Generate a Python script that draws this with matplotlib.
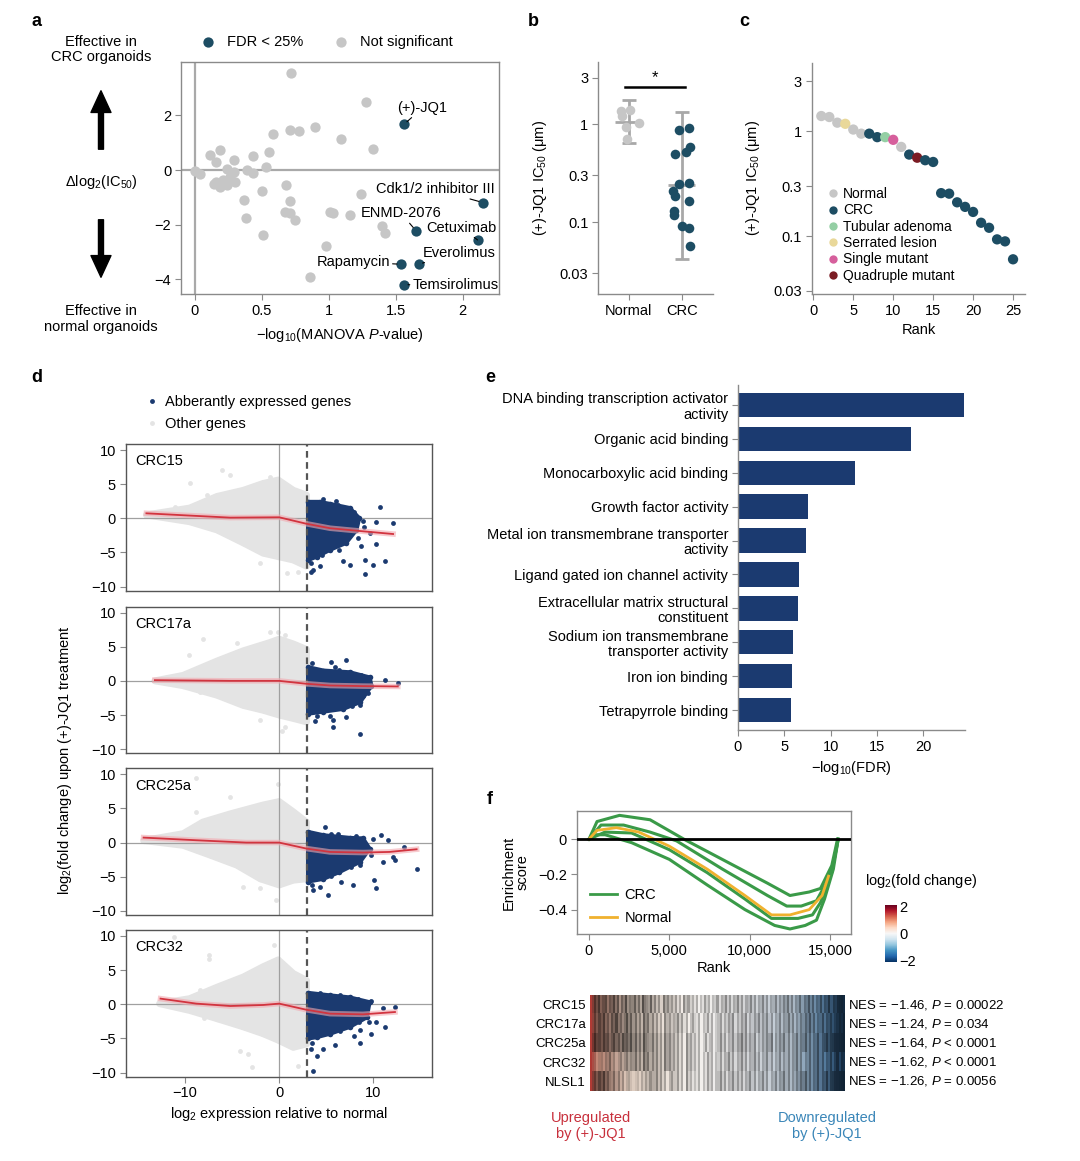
import numpy as np
import matplotlib
matplotlib.use('Agg')
import matplotlib.pyplot as plt
from matplotlib.patches import FancyArrowPatch
from matplotlib.colors import LinearSegmentedColormap, Normalize
from matplotlib.lines import Line2D
import matplotlib.colorbar as mcolorbar

plt.rcParams['font.family'] = ['Liberation Sans', 'DejaVu Sans']
plt.rcParams['font.size'] = 10
plt.rcParams['mathtext.fontset'] = 'custom'
plt.rcParams['mathtext.rm'] = 'Liberation Sans'
plt.rcParams['mathtext.it'] = 'Liberation Sans:italic'
plt.rcParams['mathtext.default'] = 'regular'

TEAL = '#1d4d63'
LGREY = '#c6c6c6'
NAVY = '#1b3a70'
SPINE = '#8a8a8a'
CLOUD = '#e4e4e4'

# ---- panel a : drug screen ----
ns_x = [0.72, 1.28, 0.90, 0.71, 0.78, 0.58, 1.09, 1.33, 0.55, 0.11, 0.19, 0.43, 0.29, 0.16, 0.53,
        0.00, 0.04, 0.24, 0.39, 0.43, 0.29, 0.16, 0.21, 0.24, 0.19, 0.30, 0.26, 0.14, 0.68, 0.50,
        0.71, 0.37, 1.24, 0.67, 0.71, 1.01, 1.03, 1.16, 0.75, 0.38, 1.40, 1.42, 0.51, 0.98, 0.86]
ns_y = [3.57, 2.50, 1.56, 1.48, 1.42, 1.33, 1.14, 0.79, 0.66, 0.56, 0.75, 0.52, 0.38, 0.29, 0.11,
        -0.04, -0.13, 0.05, 0.02, -0.11, -0.07, -0.44, -0.38, -0.56, -0.63, -0.44, -0.26, -0.50, -0.54, -0.77,
        -1.12, -1.09, -0.87, -1.52, -1.57, -1.52, -1.58, -1.64, -1.82, -1.77, -2.04, -2.32, -2.38, -2.77, -3.91]
sig_names = ['(+)-JQ1', 'Cdk1/2 inhibitor III', 'ENMD-2076', 'Cetuximab', 'Everolimus', 'Rapamycin', 'Temsirolimus']
sig_x = [1.56, 2.15, 1.65, 2.11, 1.67, 1.54, 1.56]
sig_y = [1.67, -1.19, -2.22, -2.56, -3.45, -3.45, -4.20]

# ---- panel b ----
b_normal = [1.40, 1.37, 1.21, 1.04, 0.95, 0.71]
b_normal_jit = [0.02, -0.14, -0.12, 0.19, -0.05, -0.04]
b_crc = [0.92, 0.88, 0.59, 0.52, 0.50, 0.25, 0.246, 0.207, 0.183, 0.166, 0.129, 0.117, 0.090, 0.086, 0.057]
b_crc_jit = [0.14, -0.05, 0.16, 0.08, -0.13, 0.14, -0.05, -0.16, -0.13, 0.14, -0.15, -0.15, 0.0, 0.14, 0.16]
b_mean = [1.07, 0.237]
b_lo = [0.64, 0.042]
b_hi = [1.80, 1.34]

# ---- panel c ----
c_rank = list(range(1, 26))
c_ic50 = [1.40, 1.37, 1.21, 1.18, 1.04, 0.95, 0.95, 0.88, 0.88, 0.83, 0.71, 0.60, 0.56, 0.53, 0.51,
          0.257, 0.254, 0.21, 0.19, 0.17, 0.134, 0.12, 0.093, 0.089, 0.060]
c_group = ['Normal', 'Normal', 'Normal', 'Serrated lesion', 'Normal', 'Normal', 'CRC', 'CRC', 'Tubular adenoma',
           'Single mutant', 'Normal', 'CRC', 'Quadruple mutant', 'CRC', 'CRC'] + ['CRC'] * 10
c_order = ['Normal', 'CRC', 'Tubular adenoma', 'Serrated lesion', 'Single mutant', 'Quadruple mutant']
c_colors = {'Normal': LGREY, 'CRC': TEAL, 'Tubular adenoma': '#94cfa4', 'Serrated lesion': '#e9d89a',
            'Single mutant': '#d65f9c', 'Quadruple mutant': '#7b1c24'}

# ---- panel d : (x, y) envelopes of dense clouds, sparse points and loess fits ----
d_names = ['CRC15', 'CRC17a', 'CRC25a', 'CRC32']
crc15_grey_env = [(-14.1, 0.5), (-9.5, 1.5), (-6.6, 3.2), (-3.8, 4.1), (-1.7, 5.1), (-0.1, 5.6), (1.5, 4.1), (2.9, 3.4),
                  (2.9, -7.0), (1.5, -6.1), (-0.1, -5.6), (-1.7, -5.1), (-3.8, -3.6), (-6.6, -1.7), (-9.5, -0.5)]
crc15_grey_pts = [(-6.1, 7.0), (-5.2, 6.3), (-9.5, 5.2), (-1.0, 6.1), (-11.1, 1.7), (-2.0, -6.6), (0.8, -8.0),
                  (2.0, -7.8), (-7.7, 3.4), (-12.0, 0.6)]
crc15_blue_env = [(3.07, 2.4), (4.3, 2.4), (5.4, 2.1), (7.5, 1.5), (8.5, 0.0), (8.2, -1.7), (7.1, -3.6), (5.4, -4.6),
                  (4.0, -5.6), (3.07, -6.1)]
crc15_blue_pts = [(10.7, 1.6), (12.1, -0.7), (10.3, -0.5), (11.2, -6.3), (10.0, -6.8), (9.1, -8.2), (9.1, -6.1),
                  (6.8, -6.3), (3.6, -7.5), (3.4, -7.9), (4.3, -7.0), (8.7, -4.1), (10.3, -3.7), (7.5, -6.8),
                  (9.6, -2.2), (8.9, -0.4), (9.0, -1.2), (6.0, 2.5), (4.7, 2.8), (6.3, 1.9), (7.9, 0.9),
                  (8.4, -2.9), (6.4, -4.6), (4.6, -5.4), (3.4, -6.6)]
crc15_fit = [(-14.1, 0.73), (-9.5, 0.4), (-5.2, 0.1), (0.0, 0.15), (2.9, -0.8), (5.4, -1.45), (8.9, -1.9), (12.1, -2.3)]

crc17a_grey_env = [(-13.2, 0.0), (-10.2, 0.8), (-6.6, 2.9), (-3.8, 4.4), (-1.0, 5.6), (0.0, 6.1), (1.5, 5.4), (2.9, 4.6),
                   (2.9, -6.0), (1.5, -5.5), (0.0, -5.0), (-1.7, -4.3), (-3.8, -3.6), (-6.6, -2.1), (-10.2, -0.7)]
crc17a_grey_pts = [(-8.1, 6.2), (-9.6, 3.8), (-1.0, 7.1), (-0.1, 7.1), (0.6, 6.7), (-2.0, -5.7), (0.25, -7.4),
                   (0.6, -6.7), (-8.4, -1.6), (-4.5, 5.6)]
crc17a_blue_env = [(3.07, 2.0), (4.7, 1.5), (7.5, 1.25), (9.6, 0.5), (9.8, -0.7), (8.6, -3.1), (6.8, -4.1), (4.7, -4.5),
                   (3.07, -4.8)]
crc17a_blue_pts = [(5.5, 2.8), (7.1, 3.0), (5.9, 2.0), (11.2, 0.15), (12.6, -0.3), (5.7, -5.7), (7.1, -5.3), (5.7, -6.7),
                   (8.6, -7.8), (3.8, -5.9), (8.6, -3.6), (5.4, -5.1), (8.9, -2.2), (3.5, 2.6), (6.4, 1.6),
                   (8.7, 0.9), (9.4, -1.8), (7.7, -3.7), (4.0, -5.1)]
crc17a_fit = [(-13.2, 0.1), (-5.2, 0.0), (0.0, 0.0), (2.9, -0.43), (5.4, -0.68), (8.9, -0.77), (12.6, -0.82)]

crc25a_grey_env = [(-14.4, 0.3), (-10.2, 1.3), (-8.1, 3.0), (-5.2, 4.2), (-1.7, 5.5), (0.0, 6.0), (1.5, 4.5), (2.9, 3.0),
                   (2.9, -5.3), (1.5, -5.5), (0.0, -6.2), (-2.0, -5.3), (-4.5, -3.3), (-7.3, -1.85), (-10.2, -0.4)]
crc25a_grey_pts = [(-8.8, 9.4), (-5.2, 6.7), (-0.1, 8.6), (-3.8, -6.5), (-2.0, -6.6), (-0.3, -8.4), (-8.8, 4.5),
                   (-12.5, 0.6)]
crc25a_blue_env = [(3.07, 1.56), (4.7, 1.07), (7.5, 0.68), (8.9, 0.6), (9.6, -0.9), (8.6, -2.8), (6.4, -4.3), (4.7, -5.3),
                   (3.07, -5.7)]
crc25a_blue_pts = [(4.9, 2.3), (5.5, 1.3), (10.8, 1.07), (11.6, 0.34), (13.3, -0.63), (14.6, -3.8), (12.1, -2.1),
                   (12.3, -2.6), (10.1, -5.5), (10.3, -6.6), (7.8, -6.2), (6.6, -5.8), (5.2, -7.7), (3.6, -7.0),
                   (4.3, -6.5), (11.0, -2.8), (8.6, -3.3), (10.0, 0.5), (9.8, -1.8), (6.2, 1.2), (8.2, 0.9),
                   (7.6, -3.6), (5.5, -4.9), (3.5, -6.2)]
crc25a_fit = [(-14.4, 0.73), (-8.8, 0.34), (-3.5, 0.0), (0.0, 0.0), (2.9, -0.88), (5.4, -1.37), (8.9, -1.46),
              (11.7, -1.37), (14.6, -0.98)]

crc32_grey_env = [(-12.7, 0.1), (-9.5, 0.83), (-6.6, 2.5), (-3.8, 4.0), (-1.7, 5.5), (-0.1, 6.5), (1.5, 4.5), (2.9, 3.5),
                  (2.9, -5.8), (1.5, -6.3), (0.0, -5.3), (-1.7, -4.3), (-3.8, -3.3), (-6.6, -2.1), (-9.5, -0.9)]
crc32_grey_pts = [(-11.2, 9.9), (-7.4, 7.2), (-7.4, 6.6), (-0.6, 8.7), (-2.9, -9.2), (2.0, -9.0), (-4.2, -6.8),
                  (-3.3, -7.3), (-8.4, 2.1), (-8.0, -2.0)]
crc32_blue_env = [(3.07, 1.67), (5.4, 1.3), (7.5, 1.0), (9.6, 0.3), (9.3, -1.9), (7.5, -3.3), (5.4, -4.3), (4.0, -4.8),
                  (3.07, -5.0)]
crc32_blue_pts = [(12.3, -0.4), (11.0, -0.6), (10.3, -2.6), (11.2, -3.3), (9.8, -4.3), (8.0, -4.6), (8.6, -3.8),
                  (8.6, -5.7), (5.9, -6.0), (4.7, -6.5), (4.0, -7.6), (3.4, -6.5), (3.6, -9.8), (9.5, -2.6),
                  (9.8, 0.5), (6.5, 1.3), (4.3, 1.6), (8.4, 0.8), (8.5, -2.6), (6.5, -3.9), (3.5, -5.6)]
crc32_fit = [(-12.6, 0.83), (-8.8, 0.1), (-5.2, -0.25), (-1.7, -0.1), (0.0, 0.1), (2.9, -0.8), (5.4, -1.37),
             (8.9, -1.47), (12.3, -1.13)]

# ---- panel e ----
go_terms = ['DNA binding transcription activator\nactivity', 'Organic acid binding', 'Monocarboxylic acid binding',
            'Growth factor activity', 'Metal ion transmembrane transporter\nactivity',
            'Ligand gated ion channel activity', 'Extracellular matrix structural\nconstituent',
            'Sodium ion transmembrane\ntransporter activity', 'Iron ion binding', 'Tetrapyrrole binding']
go_fdr = [24.4, 18.7, 12.6, 7.6, 7.3, 6.6, 6.5, 5.9, 5.8, 5.7]

# ---- panel f : running enrichment scores ----
es_crc1_x = [0, 500, 1900, 3800, 5900, 8500, 11100, 12500, 13700, 14400, 15100, 15460]
es_crc1_y = [0, 0.10, 0.135, 0.11, 0.0, -0.125, -0.25, -0.32, -0.30, -0.28, -0.15, 0.0]
es_crc2_x = [0, 750, 2150, 3800, 5450, 8300, 11100, 12300, 13200, 14150, 14750, 15200, 15500]
es_crc2_y = [0, 0.08, 0.08, 0.04, -0.01, -0.17, -0.32, -0.38, -0.38, -0.35, -0.25, -0.14, 0.0]
es_crc3_x = [0, 1000, 2650, 5000, 7350, 9700, 11350, 13000, 13900, 14400, 15100, 15500]
es_crc3_y = [0, 0.04, 0.035, -0.06, -0.19, -0.34, -0.45, -0.45, -0.43, -0.36, -0.19, 0.0]
es_crc4_x = [0, 300, 1000, 2650, 5000, 7350, 9700, 11550, 12500, 13450, 14150, 14650, 15200, 15500]
es_crc4_y = [0, 0.025, 0.025, -0.02, -0.115, -0.26, -0.40, -0.49, -0.51, -0.49, -0.46, -0.34, -0.17, 0.0]
es_norm_x = [0, 500, 1700, 3100, 5000, 7350, 9700, 11350, 12500, 13700, 14500, 14900]
es_norm_y = [0, 0.05, 0.065, 0.04, -0.04, -0.17, -0.32, -0.43, -0.43, -0.40, -0.32, -0.21]

hm_rows = ['CRC15', 'CRC17a', 'CRC25a', 'CRC32', 'NLSL1']
hm_nes = ['NES = \u22121.46, $\\mathit{P}$ = 0.00022', 'NES = \u22121.24, $\\mathit{P}$ = 0.034',
          'NES = \u22121.64, $\\mathit{P}$ < 0.0001', 'NES = \u22121.62, $\\mathit{P}$ < 0.0001',
          'NES = \u22121.26, $\\mathit{P}$ = 0.0056']
# stripe darkness per column (0 light - 9 dark), read left to right
hm_dark = ['048695784769583759465847396548362517463525140635241403152403251436251436251436251436251436253647362547365847365847695879998',
           '037586957486957469584736285736251406352436251403521403251402351425361425361425362536251436254736253647584736584768578989',
           '059786978579685978695847396547362517463525140635241402513402362514362547362536142536471536473625473658473658477968899999',
           '012023143624135246354736285736362517463525140635241403152403251436251436251436251436251436253625473625473658473658479587',
           '047586957436251402310120314253362514035225140624131403152403362514362525143625143625143625473625364758473658476958899999']

fig = plt.figure(figsize=(10.8, 11.61), dpi=100)


def style_axes(ax, box=False):
    for s in ['top', 'right', 'left', 'bottom']:
        ax.spines[s].set_color(SPINE)
        ax.spines[s].set_linewidth(1)
    if not box:
        ax.spines['top'].set_visible(False)
        ax.spines['right'].set_visible(False)
    ax.tick_params(color=SPINE, length=4, labelsize=10.5, pad=3)


# panel a
axa = fig.add_axes([0.1676, 0.7468, 0.2944, 0.1998])
style_axes(axa, box=True)
axa.axhline(0, color='#a9a9a9', lw=1.6, zorder=1)
axa.axvline(0, color='#a9a9a9', lw=1.6, zorder=1)
h_ns = axa.scatter(ns_x, ns_y, s=55, color=LGREY, lw=0, zorder=2)
h_sig = axa.scatter(sig_x, sig_y, s=55, color=TEAL, lw=0, zorder=3)
lab_pos = [(1.70, 2.28, 'center'), (2.235, -0.70, 'right'), (1.54, -1.59, 'center'), (1.99, -2.11, 'center'),
           (1.97, -3.03, 'center'), (1.455, -3.37, 'right'), (1.625, -4.22, 'left')]
for name, x, y, (tx, ty, ha) in zip(sig_names, sig_x, sig_y, lab_pos):
    axa.annotate(name, xy=(x, y), xytext=(tx, ty), ha=ha, va='center', fontsize=10.5, zorder=4,
                 arrowprops=dict(arrowstyle='-', lw=0.8, color='k', shrinkA=0, shrinkB=3))
axa.set_xlim(-0.104, 2.27)
axa.set_ylim(-4.54, 3.96)
axa.set_xticks([0, 0.5, 1, 1.5, 2])
axa.set_xticklabels(['0', '0.5', '1', '1.5', '2'])
axa.set_yticks([-4, -2, 0, 2])
axa.set_xlabel('\u2212log$_{10}$(MANOVA $\\mathit{P}$-value)', fontsize=10.5, labelpad=6)
axa.legend([h_sig, h_ns], ['FDR < 25%', 'Not significant'], loc='lower left', bbox_to_anchor=(0.02, 1.03),
           ncol=2, frameon=False, fontsize=10.5, handletextpad=0.3, columnspacing=1.6, borderaxespad=0)

fig.text(0.0935, 0.9574, 'Effective in\nCRC organoids', ha='center', va='center', fontsize=10.5, linespacing=1.15)
fig.text(0.0935, 0.8432, '$\\Delta$log$_2$(IC$_{50}$)', ha='center', va='center', fontsize=10.5)
fig.text(0.0935, 0.7252, 'Effective in\nnormal organoids', ha='center', va='center', fontsize=10.5, linespacing=1.15)
arrow_kw = dict(transform=fig.transFigure, color='k', mutation_scale=12,
                arrowstyle='simple,head_width=1.2,head_length=1.3,tail_width=0.3')
fig.add_artist(FancyArrowPatch((0.0935, 0.8691), (0.0935, 0.9242), **arrow_kw))
fig.add_artist(FancyArrowPatch((0.0935, 0.8131), (0.0935, 0.7588), **arrow_kw))

# panel b
axb = fig.add_axes([0.5537, 0.7468, 0.1065, 0.1998])
style_axes(axb)
axb.set_yscale('log')
for i in range(2):
    axb.vlines(i, b_lo[i], b_hi[i], color='#a8a8a8', lw=2, zorder=1)
    axb.hlines([b_lo[i], b_hi[i]], i - 0.13, i + 0.13, color='#a8a8a8', lw=2, zorder=1)
    axb.hlines(b_mean[i], i - 0.25, i + 0.25, color='#a8a8a8', lw=2, zorder=1)
axb.scatter(b_normal_jit, b_normal, s=48, color=LGREY, lw=0, zorder=2)
axb.scatter([1 + j for j in b_crc_jit], b_crc, s=48, color=TEAL, lw=0, zorder=2)
axb.plot([-0.07, 1.07], [2.41, 2.41], color='k', lw=1.8)
axb.text(0.5, 2.55, '*', ha='center', va='bottom', fontsize=12)
axb.set_ylim(0.0183, 4.37)
axb.set_xlim(-0.58, 1.59)
axb.set_yticks([0.03, 0.1, 0.3, 1, 3])
axb.set_yticklabels(['0.03', '0.1', '0.3', '1', '3'])
axb.minorticks_off()
axb.set_xticks([0, 1])
axb.set_xticklabels(['Normal', 'CRC'])
axb.set_ylabel('(+)-JQ1 IC$_{50}$ (\u03bcm)', fontsize=10.5, labelpad=8)

# panel c
axc = fig.add_axes([0.7516, 0.7468, 0.1975, 0.1990])
style_axes(axc)
axc.set_yscale('log')
axc.scatter(c_rank, c_ic50, s=55, color=[c_colors[g] for g in c_group], lw=0, zorder=2)
axc.set_ylim(0.028, 4.5)
axc.set_xlim(-0.2, 26.5)
axc.set_yticks([0.03, 0.1, 0.3, 1, 3])
axc.set_yticklabels(['0.03', '0.1', '0.3', '1', '3'])
axc.minorticks_off()
axc.set_xticks([0, 5, 10, 15, 20, 25])
axc.set_xlabel('Rank', fontsize=10.5, labelpad=4)
axc.set_ylabel('(+)-JQ1 IC$_{50}$ (\u03bcm)', fontsize=10.5, labelpad=8)
c_handles = [Line2D([], [], ls='', marker='o', ms=6, mec='none', mfc=c_colors[g]) for g in c_order]
axc.legend(c_handles, c_order, loc='lower left', bbox_to_anchor=(0.01, 0.0), frameon=False, fontsize=10,
           handletextpad=0.1, labelspacing=0.17, borderpad=0.3, handlelength=1.2)

# panel d
d_grey_env = [crc15_grey_env, crc17a_grey_env, crc25a_grey_env, crc32_grey_env]
d_grey_pts = [crc15_grey_pts, crc17a_grey_pts, crc25a_grey_pts, crc32_grey_pts]
d_blue_env = [crc15_blue_env, crc17a_blue_env, crc25a_blue_env, crc32_blue_env]
d_blue_pts = [crc15_blue_pts, crc17a_blue_pts, crc25a_blue_pts, crc32_blue_pts]
d_fit = [crc15_fit, crc17a_fit, crc25a_fit, crc32_fit]
d_bottoms = [0.4912, 0.3512, 0.2119, 0.0726]
axd = []
for i in range(4):
    ax = fig.add_axes([0.1164, d_bottoms[i], 0.2833, 0.1262])
    style_axes(ax, box=True)
    for s in ax.spines.values():
        s.set_color('#555555')
    gx, gy = zip(*d_grey_env[i])
    ax.fill(gx, gy, color=CLOUD, ec=CLOUD, lw=5, joinstyle='round', zorder=1)
    ax.scatter(gx, gy, s=14, color=CLOUD, lw=0, zorder=1)
    px, py = zip(*d_grey_pts[i])
    ax.scatter(px, py, s=12, color=CLOUD, lw=0, zorder=1)
    ax.axhline(0, color='#a0a0a0', lw=0.9, zorder=2)
    ax.axvline(0, color='#a0a0a0', lw=0.9, zorder=2)
    bx, by = zip(*d_blue_env[i])
    ax.fill(bx, by, color=NAVY, ec=NAVY, lw=3, joinstyle='round', zorder=3)
    ax.scatter(bx, by, s=16, color=NAVY, lw=0, zorder=3)
    qx, qy = zip(*d_blue_pts[i])
    ax.scatter(qx, qy, s=12, color=NAVY, lw=0, zorder=3)
    ax.axvline(3, color='#555555', lw=1.6, ls=(0, (3, 2)), zorder=4)
    fx, fy = zip(*d_fit[i])
    ax.plot(fx, fy, color='#f2a9b0', lw=4, alpha=0.6, zorder=5)
    ax.plot(fx, fy, color='#d2343f', lw=1.3, zorder=6)
    ax.text(0.03, 0.93, d_names[i], transform=ax.transAxes, ha='left', va='top', fontsize=10.5)
    ax.set_xlim(-16.3, 16.2)
    ax.set_ylim(-10.6, 10.85)
    ax.set_yticks([-10, -5, 0, 5, 10])
    if i < 3:
        ax.set_xticks([])
    else:
        ax.set_xticks([-10, 0, 10])
        ax.set_xlabel('log$_2$ expression relative to normal', fontsize=10.5, labelpad=3)
    axd.append(ax)
d_handles = [Line2D([], [], ls='', marker='o', ms=3.5, mec='none', mfc=NAVY),
             Line2D([], [], ls='', marker='o', ms=3.5, mec='none', mfc=CLOUD)]
axd[0].legend(d_handles, ['Abberantly expressed genes', 'Other genes'], loc='lower left',
              bbox_to_anchor=(0.02, 1.0), frameon=False, fontsize=10.5, handletextpad=0.4, labelspacing=0.55,
              handlelength=1.0)
fig.text(0.0602, 0.3454, 'log$_2$(fold change) upon (+)-JQ1 treatment', rotation=90, ha='center', va='center',
         fontsize=10.5)

# panel e
axe = fig.add_axes([0.6833, 0.3712, 0.2102, 0.2972])
style_axes(axe)
axe.barh(range(len(go_terms)), go_fdr, height=0.72, color=NAVY)
axe.set_ylim(len(go_terms) - 0.41, -0.59)
axe.set_xlim(0, 24.5)
axe.set_yticks(range(len(go_terms)))
axe.set_yticklabels(go_terms, fontsize=10.5, linespacing=1.1)
axe.set_xticks([0, 5, 10, 15, 20])
axe.set_xlabel('\u2212log$_{10}$(FDR)', fontsize=10.5, labelpad=4)

# panel f
axf = fig.add_axes([0.5339, 0.1953, 0.2541, 0.1065])
style_axes(axf, box=True)
green = '#3a9a48'
for xs, ys in [(es_crc1_x, es_crc1_y), (es_crc2_x, es_crc2_y), (es_crc3_x, es_crc3_y), (es_crc4_x, es_crc4_y)]:
    axf.plot(xs, ys, color=green, lw=2.2, zorder=2)
axf.plot(es_norm_x, es_norm_y, color='#f0b12e', lw=2.0, zorder=3)
axf.axhline(0, color='k', lw=2, zorder=4)
axf.set_xlim(-770, 16300)
axf.set_ylim(-0.54, 0.162)
axf.set_xticks([0, 5000, 10000, 15000])
axf.set_xticklabels(['0', '5,000', '10,000', '15,000'])
axf.set_yticks([-0.4, -0.2, 0])
axf.set_yticklabels(['\u22120.4', '\u22120.2', '0'])
axf.set_xlabel('Rank', fontsize=10.5, labelpad=2)
axf.set_ylabel('Enrichment\nscore', fontsize=10.5, labelpad=6, linespacing=1.0)
axf.legend([Line2D([], [], color=green, lw=2), Line2D([], [], color='#f0b12e', lw=2)], ['CRC', 'Normal'],
           loc='lower left', bbox_to_anchor=(0.0, -0.03), frameon=False, fontsize=10.5, handlelength=1.9,
           handletextpad=0.5, labelspacing=0.6)

cax = fig.add_axes([0.8190, 0.1714, 0.0111, 0.0491])
cb = mcolorbar.ColorbarBase(cax, cmap=plt.get_cmap('RdBu_r'), norm=Normalize(-2.15, 2.15), ticks=[-2, 0, 2])
cb.outline.set_visible(False)
cb.set_ticklabels(['\u22122', '0', '2'])
cax.tick_params(length=0, labelsize=10.5, pad=2)
fig.text(0.8005, 1 - 881 / 1161, 'log$_2$(fold change)', ha='left', va='center', fontsize=10.5)

# heatmap of leading edge
axh = fig.add_axes([0.5463, 0.0603, 0.2352, 0.0827])
base = LinearSegmentedColormap.from_list('rank', [(0, '#b03a34'), (0.025, '#c48c7a'), (0.15, '#dccabc'),
                                                  (0.4, '#f5f2ee'), (0.6, '#e6e6e8'), (0.8, '#c8d7e5'),
                                                  (0.92, '#709fca'), (1.0, '#2b5d8e')])
for i, row in enumerate(hm_dark):
    d = np.array([int(c) for c in row])
    cols = base(np.linspace(0, 1, len(d)))[:, :3]
    rgb = cols * (1 - 0.07 * d)[:, None]
    axh.imshow(rgb[None, :, :], extent=(0, 1, i + 0.5, i - 0.5), aspect='auto', interpolation='nearest')
axh.set_xlim(0, 1)
axh.set_ylim(len(hm_rows) - 0.5, -0.5)
axh.set_yticks(range(len(hm_rows)))
axh.set_yticklabels(hm_rows, fontsize=9.5)
axh.set_xticks([])
axh.tick_params(length=0, pad=3)
for s in axh.spines.values():
    s.set_visible(False)
for i, t in enumerate(hm_nes):
    axh.text(1.015, i, t, transform=axh.get_yaxis_transform(), ha='left', va='center', fontsize=9.5)
fig.text(591 / 1080, 1 - 1126 / 1161, 'Upregulated\nby (+)-JQ1', color='#c8303c', ha='center', va='center',
         fontsize=10.5, linespacing=1.2)
fig.text(827 / 1080, 1 - 1126 / 1161, 'Downregulated\nby (+)-JQ1', color='#3a86b8', ha='center', va='center',
         fontsize=10.5, linespacing=1.2)

# panel letters
for lab, x, y in [('a', 37, 22), ('b', 533, 22), ('c', 744, 22), ('d', 37, 378), ('e', 490, 378), ('f', 490, 800)]:
    fig.text(x / 1080, 1 - y / 1161, lab, ha='center', va='center', fontsize=13, fontweight='bold')

fig.savefig('out.png', dpi=100)
